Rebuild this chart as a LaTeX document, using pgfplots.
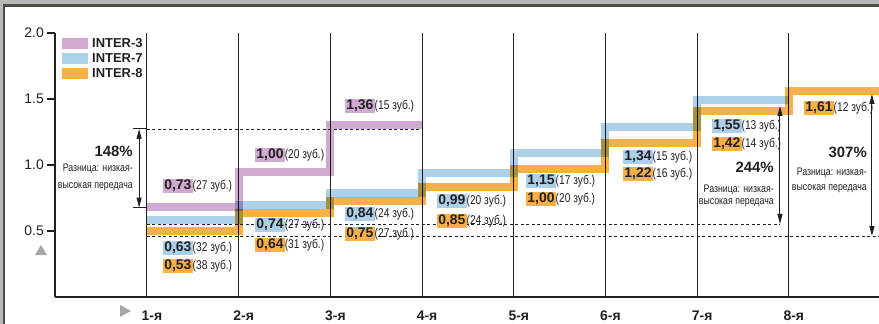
\documentclass[border=0pt]{standalone}
\usepackage{pgfplots}
\pgfplotsset{compat=1.18}
\usepackage{fontspec}
\setmainfont{Liberation Sans}
\newfontfamily\cond[FakeStretch=0.8]{Liberation Sans}
\usetikzlibrary{arrows.meta}

\definecolor{cP}{RGB}{208,170,208}
\definecolor{cB}{RGB}{172,208,232}
\definecolor{cO}{RGB}{246,176,72}
\definecolor{ink}{RGB}{35,31,32}
\definecolor{frameL}{RGB}{185,185,185}
\definecolor{frameD}{RGB}{80,76,72}

% value label: x, y, colour, value, teeth
\newcommand{\vlab}[5]{\node[anchor=west,inner sep=0pt,text=ink] at (axis cs:#1,#2)
  {\setlength{\fboxsep}{1.2bp}\colorbox{#3}{\fontsize{14}{14}\selectfont\bfseries #4}{\cond\fontsize{12.8}{13}\selectfont(#5 зуб.)}};}
% percent note: x (right edge), y of three lines, percent
\newcommand{\pnote}[5]{%
  \node[anchor=east,inner sep=0pt,text=ink,font=\fontsize{15}{15}\selectfont\bfseries] at (axis cs:#1,#2) {#5};
  \node[anchor=east,inner sep=0pt,text=ink,font=\cond\fontsize{11}{11}\selectfont] at (axis cs:#1,#3) {Разница: низкая-};
  \node[anchor=east,inner sep=0pt,text=ink,font=\cond\fontsize{11}{11}\selectfont] at (axis cs:#1,#4) {высокая передача};}

\begin{document}
\begin{tikzpicture}
\begin{axis}[
  x=91.7bp, y=132bp,
  xmin=0, xmax=8.983,
  ymin=0, ymax=2,
  clip=false,
  axis x line=bottom,
  axis y line=left,
  axis line style={-, line width=2.2bp, color=ink},
  xtick={1,2,3,4,5,6,7,8},
  xticklabels={1-я,2-я,3-я,4-я,5-я,6-я,7-я,8-я},
  xticklabel style={font=\fontsize{14}{14}\selectfont\bfseries, text=ink, xshift=5bp, yshift=-2bp},
  x tick style={draw=none},
  xmajorgrids,
  grid style={line width=1bp, color=ink},
  ytick={0.5,1,1.5,2},
  yticklabels={0.5,1.0,1.5,2.0},
  yticklabel style={font=\fontsize{14}{14}\selectfont, text=ink},
  tick align=outside,
  major tick length=8bp,
  y tick style={line width=1.2bp, color=ink},
  legend style={at={(0.0081,0.985)}, anchor=north west, draw=none, fill=none,
    font=\fontsize{13}{13}\selectfont\bfseries, text=ink, row sep=2.5bp,
    inner sep=0pt, nodes={inner sep=1bp},
    /tikz/every odd column/.append style={column sep=3bp}},
  legend cell align=left,
]

% frame of the page
\fill[frameL] (axis cs:-0.603,2.2174) rectangle (axis cs:8.983,2.25);
\fill[frameD] (axis cs:-0.574,2.199) rectangle (axis cs:8.983,2.2174);
\fill[frameL] (axis cs:-0.603,-0.2045) rectangle (axis cs:-0.574,2.2174);
\fill[frameD] (axis cs:-0.574,-0.2045) rectangle (axis cs:-0.552,2.2174);
\coordinate (BL) at (axis cs:-0.603,-0.2045);
\coordinate (TR) at (axis cs:8.983,2.25);

\addplot[const plot, draw=cP, line width=8bp, line join=miter, line cap=butt, blend mode=multiply,
  legend image code/.code={\path[fill=cP, draw=none] (0bp,-5.5bp) rectangle (26bp,5.5bp);}]
  coordinates {(1,0.68) (2,0.95) (3,1.30) (4,1.30)};
\addlegendentry{INTER-3}
\addplot[const plot, draw=cB, line width=8bp, line join=miter, line cap=butt, blend mode=multiply,
  legend image code/.code={\path[fill=cB, draw=none] (0bp,-5.5bp) rectangle (26bp,5.5bp);}]
  coordinates {(1,0.58) (2,0.695) (3,0.79) (4,0.94) (5,1.09) (6,1.29) (7,1.49) (8,1.49)};
\addlegendentry{INTER-7}
\addplot[const plot, draw=cO, line width=8bp, line join=miter, line cap=butt, blend mode=multiply,
  legend image code/.code={\path[fill=cO, draw=none] (0bp,-5.5bp) rectangle (26bp,5.5bp);}]
  coordinates {(1,0.50) (2,0.635) (3,0.73) (4,0.83) (5,0.97) (6,1.17) (7,1.41) (8,1.56) (8.983,1.56)};
\addlegendentry{INTER-8}

% dashed reference lines
\draw[ink, line width=0.8bp, dash pattern=on 3bp off 2.5bp] (axis cs:1,1.273) -- (axis cs:4,1.273);
\draw[ink, line width=0.8bp, dash pattern=on 3bp off 2.5bp] (axis cs:1,0.553) -- (axis cs:7.903,0.553);
\draw[ink, line width=0.8bp, dash pattern=on 3bp off 2.5bp] (axis cs:1,0.462) -- (axis cs:8.983,0.462);

% arrows
\draw[ink, line width=1bp] (axis cs:0.847,1.273) -- (axis cs:1,1.273);
\draw[ink, line width=1bp] (axis cs:0.847,0.677) -- (axis cs:1,0.677);
\draw[ink, line width=1bp, {Triangle[width=5bp,length=10bp]}-{Triangle[width=5bp,length=10bp]}]
  (axis cs:0.914,1.273) -- (axis cs:0.914,0.677);
\draw[ink, line width=1bp, {Triangle[width=5bp,length=10bp]}-{Triangle[width=5bp,length=10bp]}]
  (axis cs:7.903,1.447) -- (axis cs:7.903,0.553);
\draw[ink, line width=1bp, {Triangle[width=5bp,length=10bp]}-{Triangle[width=5bp,length=10bp]}]
  (axis cs:8.906,1.538) -- (axis cs:8.906,0.462);

% grey markers
\fill[black!35] (axis cs:0.706,-0.0606) -- (axis cs:0.706,-0.1515) -- (axis cs:0.826,-0.106) -- cycle;
\fill[black!35] (axis cs:-0.221,0.318) -- (axis cs:-0.0905,0.318) -- (axis cs:-0.156,0.394) -- cycle;

% value labels
\vlab{1.174}{0.841}{cP}{0,73}{27}
\vlab{1.174}{0.371}{cB}{0,63}{32}
\vlab{1.174}{0.235}{cO}{0,53}{38}
\vlab{2.178}{1.076}{cP}{1,00}{20}
\vlab{2.178}{0.545}{cB}{0,74}{27}
\vlab{2.178}{0.394}{cO}{0,64}{31}
\vlab{3.159}{1.447}{cP}{1,36}{15}
\vlab{3.159}{0.629}{cB}{0,84}{24}
\vlab{3.159}{0.477}{cO}{0,75}{27}
\vlab{4.162}{0.727}{cB}{0,99}{20}
\vlab{4.162}{0.576}{cO}{0,85}{24}
\vlab{5.133}{0.879}{cB}{1,15}{17}
\vlab{5.133}{0.742}{cO}{1,00}{20}
\vlab{6.191}{1.061}{cB}{1,34}{15}
\vlab{6.191}{0.932}{cO}{1,22}{16}
\vlab{7.161}{1.295}{cB}{1,55}{13}
\vlab{7.161}{1.159}{cO}{1,42}{14}
\vlab{8.165}{1.432}{cO}{1,61}{12}

% percent notes
\pnote{0.847}{1.106}{0.970}{0.833}{148\%}
\pnote{7.837}{0.985}{0.811}{0.712}{244\%}
\pnote{8.852}{1.098}{0.939}{0.818}{307\%}

\end{axis}
\pgfresetboundingbox
\path[use as bounding box] (BL) rectangle (TR);
\end{tikzpicture}
\end{document}
